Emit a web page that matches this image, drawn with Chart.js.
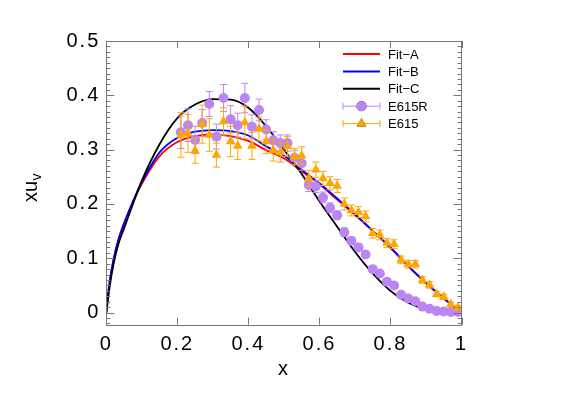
<!DOCTYPE html>
<html>
<head>
<meta charset="utf-8">
<script src="https://cdn.jsdelivr.net/npm/chart.js@4/dist/chart.umd.min.js"></script>
<style>
  html, body { margin: 0; padding: 0; background: #fff; }
  #wrap { width: 562px; height: 397px; }
</style>
</head>
<body>
<div id="wrap"><canvas id="myChart" width="562" height="397"></canvas></div>
<script>
// fit curves
const xFit = [0, 0.005, 0.01, 0.02, 0.035, 0.05, 0.075, 0.1, 0.15, 0.2, 0.25, 0.3, 0.35, 0.4, 0.45, 0.5, 0.55, 0.6, 0.65, 0.7, 0.75, 0.8, 0.85, 0.9, 0.95, 1];
const fitA = [0, 0.033, 0.058, 0.095, 0.135, 0.163, 0.203, 0.237, 0.288, 0.314, 0.325, 0.328, 0.325, 0.316, 0.299, 0.284, 0.260, 0.236, 0.208, 0.180, 0.150, 0.119, 0.085, 0.054, 0.026, 0];
const fitB = [0, 0.035, 0.060, 0.097, 0.137, 0.165, 0.205, 0.240, 0.295, 0.322, 0.333, 0.336, 0.334, 0.326, 0.306, 0.289, 0.263, 0.238, 0.210, 0.181, 0.151, 0.120, 0.086, 0.055, 0.026, 0];
const fitC = [0, 0.025, 0.050, 0.088, 0.128, 0.155, 0.200, 0.243, 0.310, 0.358, 0.383, 0.393, 0.392, 0.377, 0.343, 0.300, 0.255, 0.205, 0.158, 0.112, 0.072, 0.040, 0.018, 0.006, 0.001, 0];

// data points (same x for both sets)
const xData = [0.21, 0.23, 0.25, 0.27, 0.29, 0.31, 0.33, 0.35, 0.37, 0.39,
               0.41, 0.43, 0.45, 0.47, 0.49, 0.51, 0.53, 0.55, 0.57, 0.59,
               0.61, 0.63, 0.65, 0.67, 0.69, 0.71, 0.73, 0.75, 0.77, 0.79,
               0.81, 0.83, 0.85, 0.87, 0.89, 0.91, 0.93, 0.95, 0.97, 0.99];
const e615R = [0.332, 0.345, 0.318, 0.349, 0.384, 0.324, 0.395, 0.356, 0.345, 0.395,
               0.342, 0.373, 0.337, 0.317, 0.312, 0.312, 0.285, 0.275, 0.235, 0.232,
               0.212, 0.193, 0.179, 0.148, 0.132, 0.120, 0.107, 0.080, 0.072, 0.057,
               0.050, 0.033, 0.026, 0.021, 0.011, 0.007, 0.003, 0.002, 0.001, 0.001];
const e615RErr = [0.030, 0.030, 0.025, 0.025, 0.023, 0.023, 0.025, 0.025, 0.022, 0.027,
                  0.022, 0.020, 0.018, 0.016, 0.015, 0.015, 0.013, 0.013, 0.012, 0.011,
                  0.010, 0.009, 0.008, 0.008, 0.007, 0.006, 0.006, 0.005, 0.004, 0.004,
                  0.003, 0.003, 0.003, 0.002, 0.002, 0.002, 0.001, 0.001, 0.001, 0.001];
const e615 = [0.327, 0.330, 0.298, 0.347, 0.327, 0.290, 0.352, 0.315, 0.307, 0.350,
              0.307, 0.338, 0.315, 0.299, 0.295, 0.306, 0.287, 0.289, 0.247, 0.263,
              0.247, 0.238, 0.233, 0.200, 0.188, 0.185, 0.177, 0.146, 0.143, 0.128,
              0.126, 0.097, 0.089, 0.089, 0.060, 0.051, 0.034, 0.029, 0.015, 0.009];
const e615Err = [0.041, 0.035, 0.023, 0.035, 0.030, 0.022, 0.025, 0.028, 0.025, 0.030,
                 0.025, 0.022, 0.022, 0.020, 0.018, 0.018, 0.015, 0.016, 0.015, 0.014,
                 0.013, 0.012, 0.012, 0.011, 0.010, 0.010, 0.010, 0.009, 0.009, 0.008,
                 0.008, 0.007, 0.007, 0.007, 0.006, 0.006, 0.005, 0.005, 0.004, 0.004];

const xTicks = [0, 0.2, 0.4, 0.6, 0.8, 1];
const yTicks = [0, 0.1, 0.2, 0.3, 0.4, 0.5];
const labels = ['Fit\u2212A', 'Fit\u2212B', 'Fit\u2212C', 'E615R', 'E615'];

const PURPLE = '#bb86f4';
const ORANGE = '#ffa500';
const FONT = 'Liberation Sans, Arial, sans-serif';

function pts(xs, ys) {
    return xs.map((v, i) => ({x: v, y: ys[i]}));
}

// the tick labels of the original are spaced out a little
const wideTicks = {
    id: 'wideTicks',
    beforeDraw(chart) { chart.ctx.letterSpacing = '2px'; },
    beforeDatasetsDraw(chart) { chart.ctx.letterSpacing = '0px'; }
};

// vertical error bars, drawn just before the markers of their dataset
const errorBars = {
    id: 'errorBars',
    beforeDatasetDraw(chart, args) {
        const ds = chart.data.datasets[args.index];
        if (!ds.errors) return;
        const ctx = chart.ctx, x = chart.scales.x, y = chart.scales.y;
        ctx.save();
        ctx.strokeStyle = ds.borderColor;
        ctx.lineWidth = 1;
        ds.data.forEach((p, i) => {
            const px = x.getPixelForValue(p.x);
            const y1 = y.getPixelForValue(p.y - ds.errors[i]);
            const y2 = y.getPixelForValue(p.y + ds.errors[i]);
            ctx.beginPath();
            ctx.moveTo(px, y1); ctx.lineTo(px, y2);
            ctx.moveTo(px - 3.5, y1); ctx.lineTo(px + 3.5, y1);
            ctx.moveTo(px - 3.5, y2); ctx.lineTo(px + 3.5, y2);
            ctx.stroke();
        });
        ctx.restore();
    }
};

// frame with inward ticks (gnuplot style)
const frame = {
    id: 'frame',
    afterDraw(chart) {
        const ctx = chart.ctx, a = chart.chartArea;
        const x = chart.scales.x, y = chart.scales.y;
        ctx.save();
        ctx.letterSpacing = '0px';
        ctx.strokeStyle = '#777';
        ctx.lineWidth = 1;
        ctx.beginPath();
        xTicks.forEach(v => {
            const px = Math.round(x.getPixelForValue(v)) + 0.5;
            ctx.moveTo(px, a.bottom); ctx.lineTo(px, a.bottom - 7);
            ctx.moveTo(px, a.top); ctx.lineTo(px, a.top + 7);
        });
        for (let k = -2; k <= 50; k++) {
            const py = Math.round(y.getPixelForValue(k / 100)) + 0.5;
            const len = (k % 10 === 0) ? 8 : 4;
            ctx.moveTo(a.left, py); ctx.lineTo(a.left + len, py);
            ctx.moveTo(a.right, py); ctx.lineTo(a.right - len, py);
        }
        ctx.stroke();
        ctx.strokeRect(Math.round(a.left) + 0.5, Math.round(a.top) + 0.5,
                       Math.round(a.right - a.left), Math.round(a.bottom - a.top));
        ctx.restore();

        // y axis title with subscript
        ctx.save();
        ctx.letterSpacing = '0px';
        ctx.fillStyle = '#000';
        ctx.translate(37, 202);
        ctx.rotate(-Math.PI / 2);
        ctx.font = '20px ' + FONT;
        ctx.textBaseline = 'alphabetic';
        ctx.fillText('xu', 0, 0);
        const w = ctx.measureText('xu').width;
        ctx.font = '14px ' + FONT;
        ctx.fillText('v', w + 0.5, 4);
        ctx.restore();
    }
};

// legend in the top right corner of the plot
const keyBox = {
    id: 'keyBox',
    afterDraw(chart) {
        const ctx = chart.ctx;
        const x0 = 343, x1 = 380, tx = 388, top = 54, step = 17.4;
        ctx.save();
        ctx.letterSpacing = '0px';
        chart.data.datasets.forEach((ds, i) => {
            const yy = top + i * step;
            ctx.strokeStyle = ds.borderColor;
            ctx.lineWidth = ds.errors ? 1 : 2;
            ctx.beginPath();
            ctx.moveTo(x0, yy); ctx.lineTo(x1, yy);
            if (ds.errors) {
                ctx.moveTo(x0, yy - 3.5); ctx.lineTo(x0, yy + 3.5);
                ctx.moveTo(x1, yy - 3.5); ctx.lineTo(x1, yy + 3.5);
            }
            ctx.stroke();
            if (ds.errors) {
                Chart.helpers.drawPoint(ctx, {
                    pointStyle: ds.pointStyle, radius: ds.pointRadius, rotation: 0, borderWidth: 0
                }, (x0 + x1) / 2, yy);
                ctx.fillStyle = ds.backgroundColor;
                ctx.fill();
            }
            ctx.fillStyle = '#000';
            ctx.font = '13px ' + FONT;
            ctx.textBaseline = 'middle';
            ctx.fillText(ds.label, tx, yy + 1);
        });
        ctx.restore();
    }
};

const fitLine = (label, ys, color, order) => ({
    label: label,
    data: pts(xFit, ys),
    showLine: true,
    borderColor: color,
    borderWidth: 1.8,
    pointRadius: 0,
    cubicInterpolationMode: 'monotone',
    order: order
});

const ctx = document.getElementById('myChart').getContext('2d');
const myChart = new Chart(ctx, {
    type: 'scatter',
    data: {
        datasets: [
            fitLine(labels[0], fitA, '#ff0000', 4),
            fitLine(labels[1], fitB, '#0000ff', 3),
            fitLine(labels[2], fitC, '#000000', 2),
            {
                label: labels[3],
                data: pts(xData, e615R),
                errors: e615RErr,
                borderColor: PURPLE,
                backgroundColor: PURPLE,
                pointStyle: 'circle',
                pointRadius: 5,
                pointBorderWidth: 0,
                order: 1
            },
            {
                label: labels[4],
                data: pts(xData, e615),
                errors: e615Err,
                borderColor: ORANGE,
                backgroundColor: ORANGE,
                pointStyle: 'triangle',
                pointRadius: 5.6,
                pointBorderWidth: 0,
                order: 0
            }
        ]
    },
    options: {
        animation: false,
        responsive: false,
        layout: { padding: { left: 0, top: 41, right: 100.5, bottom: 0 } },
        plugins: { legend: { display: false }, tooltip: { enabled: false } },
        scales: {
            x: {
                type: 'linear',
                min: 0, max: 1,
                afterBuildTicks: s => { s.ticks = xTicks.map(v => ({value: v})); },
                afterFit: s => { s.height = 72.3; },
                grid: { display: false, drawTicks: false },
                border: { display: false },
                ticks: {
                    color: '#000',
                    font: { family: FONT, size: 20 },
                    padding: 8,
                    maxRotation: 0,
                    callback: v => String(v)
                },
                title: {
                    display: true,
                    text: 'x',
                    color: '#000',
                    font: { family: FONT, size: 20 },
                    padding: { top: 0, bottom: 16 }
                }
            },
            y: {
                type: 'linear',
                min: -0.0223, max: 0.5,
                afterBuildTicks: s => { s.ticks = yTicks.map(v => ({value: v})); },
                afterFit: s => { s.width = 106.3; },
                grid: { display: false, drawTicks: false },
                border: { display: false },
                ticks: {
                    color: '#000',
                    font: { family: FONT, size: 20 },
                    padding: 6,
                    callback: v => String(v)
                }
            }
        }
    },
    plugins: [wideTicks, errorBars, frame, keyBox]
});
</script>
</body>
</html>
